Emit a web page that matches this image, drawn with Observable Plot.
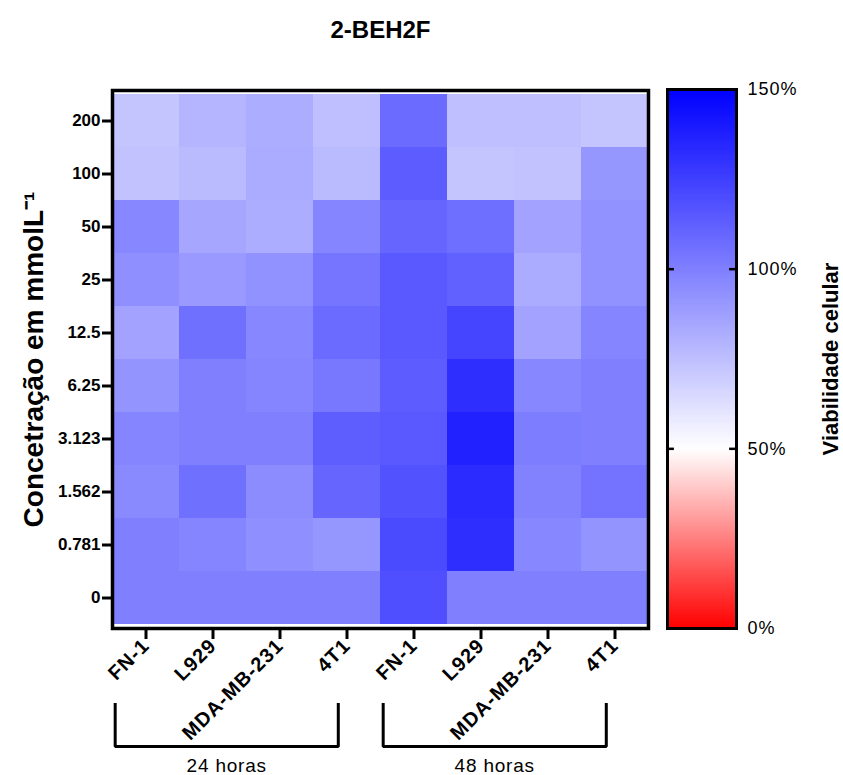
<!DOCTYPE html>
<html>
<head>
<meta charset="utf-8">
<script src="https://cdn.jsdelivr.net/npm/d3@7"></script>
<script src="https://cdn.jsdelivr.net/npm/@observablehq/plot@0.6"></script>
<style>
  html, body { margin: 0; padding: 0; background: #fff; }
  #wrap { position: relative; width: 843px; height: 775px; background: #fff; }
  #wrap svg { position: absolute; left: 0; top: 0; }
</style>
</head>
<body>
<div id="wrap"></div>
<script>
// ---- data ----
const title = "2-BEH2F";
const concentrations = ["200","100","50","25","12.5","6.25","3.123","1.562","0.781","0"]; // top -> bottom
const cellLines = ["FN-1","L929","MDA-MB-231","4T1"];
const times = ["24 horas","48 horas"];
// viability (%) per column, values in order of `concentrations`
const fn1_24  = [73, 74, 97, 94, 86, 92, 98, 96, 100, 100];
const l929_24 = [79, 77, 85, 90, 106, 100, 100, 106, 98, 100];
const mda_24  = [82, 83, 82, 93, 97, 98, 100, 95, 94, 100];
const t41_24  = [75, 77, 98, 104, 108, 103, 113, 110, 91, 100];
const fn1_48  = [108, 114, 110, 115, 115, 114, 115, 118, 121, 119];
const l929_48 = [75, 73, 107, 112, 123, 132, 137, 133, 132, 100];
const mda_48  = [75, 74, 86, 83, 86, 97, 101, 99, 97, 100];
const t41_48  = [73, 91, 93, 93, 98, 100, 100, 105, 92, 100];
const colorStops = [0, 50, 150];
const colorRange = ["#ff0000", "#ffffff", "#0000ff"];
const colorTicks = [0, 50, 100, 150];

const columns = [
  {time: times[0], line: cellLines[0], values: fn1_24},
  {time: times[0], line: cellLines[1], values: l929_24},
  {time: times[0], line: cellLines[2], values: mda_24},
  {time: times[0], line: cellLines[3], values: t41_24},
  {time: times[1], line: cellLines[0], values: fn1_48},
  {time: times[1], line: cellLines[1], values: l929_48},
  {time: times[1], line: cellLines[2], values: mda_48},
  {time: times[1], line: cellLines[3], values: t41_48}
];
const keys = columns.map(c => c.time + "|" + c.line);
const table = columns.flatMap((c, i) => c.values.map((v, j) => ({key: keys[i], conc: concentrations[j], value: v})));
const groups = times.map((t, g) => ({label: t, first: g * 4, last: g * 4 + 3}));

const font = "'Liberation Sans', Arial, Helvetica, sans-serif";
const colorScale = {type: "linear", domain: colorStops, range: colorRange, interpolate: "rgb", clamp: true};
const W = 843, H = 775;

// ---- main heatmap ----
const main = Plot.plot({
  width: W, height: H,
  marginLeft: 112, marginRight: 195, marginTop: 90, marginBottom: 147,
  style: {fontFamily: font, background: "white", color: "black"},
  x: {domain: keys, padding: 0, axis: null},
  y: {domain: concentrations, padding: 0, axis: null},
  color: colorScale,
  marks: [
    Plot.cell(table, {x: "key", y: "conc", fill: "value", inset: 0}),
    Plot.frame({stroke: "black", strokeWidth: 3.5}),
    Plot.axisY({tickSize: 10, tickPadding: 2, fontSize: 17, fontWeight: "bold", strokeWidth: 3, label: null}),
    Plot.axisX({tickSize: 11, tickPadding: 3, tickRotate: -45, fontSize: 20, fontWeight: "bold", strokeWidth: 3, label: null,
      tickFormat: k => k.split("|")[1]}),
    Plot.text([title], {frameAnchor: "top", dy: -60, lineAnchor: "middle", fontSize: 24, fontWeight: "bold"}),
    Plot.text(["Concetração em mmolL⁻¹"], {frameAnchor: "left", dx: -78, rotate: -90, fontSize: 28, fontWeight: "bold", textAnchor: "middle"})
  ]
});
d3.select(main).selectAll("g[aria-label='x-axis tick label'] text").style("letter-spacing", "1px");

// ---- colour bar ----
const bar = Plot.plot({
  width: W, height: H,
  marginLeft: 667, marginRight: 107, marginTop: 89, marginBottom: 147,
  style: {fontFamily: font, background: "transparent", color: "black", overflow: "visible"},
  x: {domain: [0, 1], axis: null},
  y: {domain: [colorStops[0], colorStops[2]], axis: null},
  color: colorScale,
  marks: [
    Plot.raster({x1: 0, x2: 1, y1: colorStops[0], y2: colorStops[2], width: 2, height: 300, fill: (x, y) => y, imageRendering: "auto"}),
    Plot.frame({stroke: "black", strokeWidth: 3}),
    Plot.ruleY(colorTicks.slice(1, -1), {x1: 0, x2: 0.1, strokeWidth: 2.5}),
    Plot.ruleY(colorTicks.slice(1, -1), {x1: 0.9, x2: 1, strokeWidth: 2.5}),
    Plot.axisY({anchor: "right", ticks: colorTicks, tickSize: 0, tickPadding: 11, fontSize: 18, label: null, tickFormat: d => d + "%"}),
    Plot.text(["Viabilidade celular"], {frameAnchor: "right", dx: 94, rotate: -90, fontSize: 22, fontWeight: "bold", textAnchor: "middle"})
  ]
});
d3.select(bar).selectAll("g[aria-label='y-axis tick label'] text").style("letter-spacing", "1px");

// ---- time brackets ----
const bracketPts = groups.flatMap(g => {
  const a = g.first + 0.04, b = g.last + 0.37;
  return [{label: g.label, x: a, y: 1}, {label: g.label, x: a, y: 0}, {label: g.label, x: b, y: 0}, {label: g.label, x: b, y: 1}];
});
const brackets = Plot.plot({
  width: W, height: H,
  marginLeft: 112, marginRight: 195, marginTop: 704, marginBottom: 29,
  style: {fontFamily: font, background: "transparent", color: "black", overflow: "visible"},
  x: {domain: [0, columns.length], axis: null},
  y: {domain: [0, 1], axis: null},
  marks: [
    Plot.line(bracketPts, {x: "x", y: "y", z: "label", stroke: "black", strokeWidth: 3, strokeLinejoin: "miter", strokeLinecap: "square"}),
    Plot.text(groups, {x: g => (g.first + 0.04 + g.last + 0.37) / 2, y: () => 0, text: "label", dy: 19, fontSize: 19})
  ]
});
d3.select(brackets).selectAll("g[aria-label='text'] text").style("letter-spacing", "0.8px");

const wrap = document.getElementById("wrap");
wrap.appendChild(main);
wrap.appendChild(bar);
wrap.appendChild(brackets);
</script>
</body>
</html>
